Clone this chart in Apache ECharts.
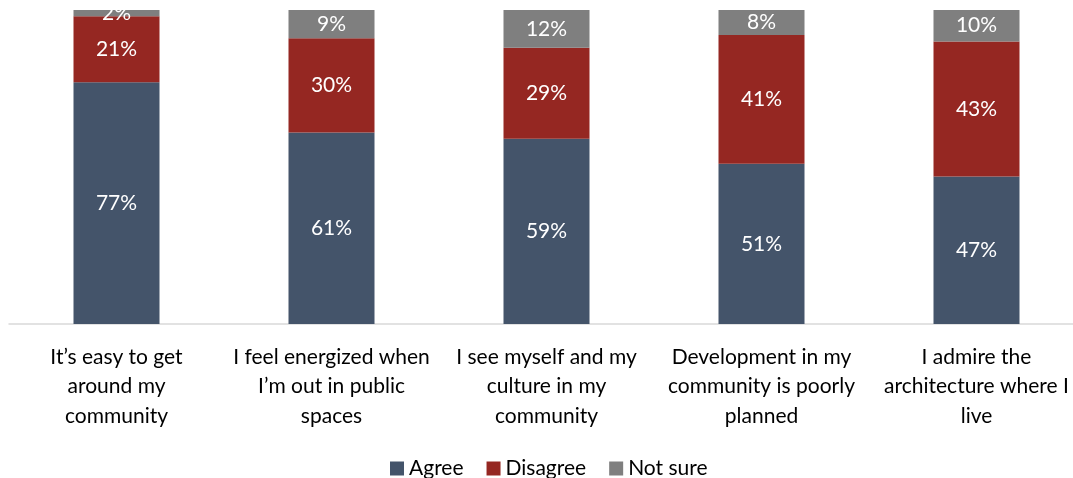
<!DOCTYPE html>
<html>
<head>
<meta charset="utf-8">
<script src="https://cdn.jsdelivr.net/npm/echarts@6/dist/echarts.min.js"></script>
<style>html,body{margin:0;padding:0;background:#fff;overflow:hidden;width:1073px;height:478px;}#c{width:1084px;height:478px;}</style>
</head>
<body>
<div id="c"></div>
<script>
const categories = [
  "It\u2019s easy to get\naround my\ncommunity",
  "I feel energized when\nI\u2019m out in public\nspaces",
  "I see myself and my\nculture in my\ncommunity",
  "Development in my\ncommunity is poorly\nplanned",
  "I admire the\narchitecture where I\nlive"
];
const agree = [77, 61, 59, 51, 47];
const disagree = [21, 30, 29, 41, 43];
const notSure = [2, 9, 12, 8, 10];

const font = 'Lato, "Liberation Sans", sans-serif';
const chart = echarts.init(document.getElementById('c'), null, {renderer: 'canvas'});
function mk(name, data, color) {
  return {
    name, type: 'bar', stack: 'a', data, barWidth: '40%',
    itemStyle: {color},
    label: {show: true, position: 'inside', formatter: '{c}%', color: '#fff', fontSize: 21, fontFamily: font},
    emphasis: {disabled: true}
  };
}
chart.setOption({
  animation: false,
  textStyle: {fontFamily: font},
  grid: {left: 9, right: 0, top: 10, bottom: 154, containLabel: false},
  legend: {
    top: 453, left: 385, itemWidth: 14, itemHeight: 14, itemGap: 23,
    icon: 'rect',
    textStyle: {fontSize: 21, color: '#000', fontFamily: font},
    data: ['Agree', 'Disagree', 'Not sure']
  },
  xAxis: {
    type: 'category', data: categories,
    axisLine: {lineStyle: {color: '#d9d9d9', width: 1.5}},
    axisTick: {show: false},
    axisLabel: {color: '#000', fontSize: 21, lineHeight: 29.5, margin: 18, fontFamily: font, interval: 0}
  },
  yAxis: {type: 'value', min: 0, max: 100, show: false, splitLine: {show: false}},
  series: [
    mk('Agree', agree, '#44546A'),
    mk('Disagree', disagree, '#952722'),
    mk('Not sure', notSure, '#7F7F7F')
  ]
});
</script>
</body>
</html>
